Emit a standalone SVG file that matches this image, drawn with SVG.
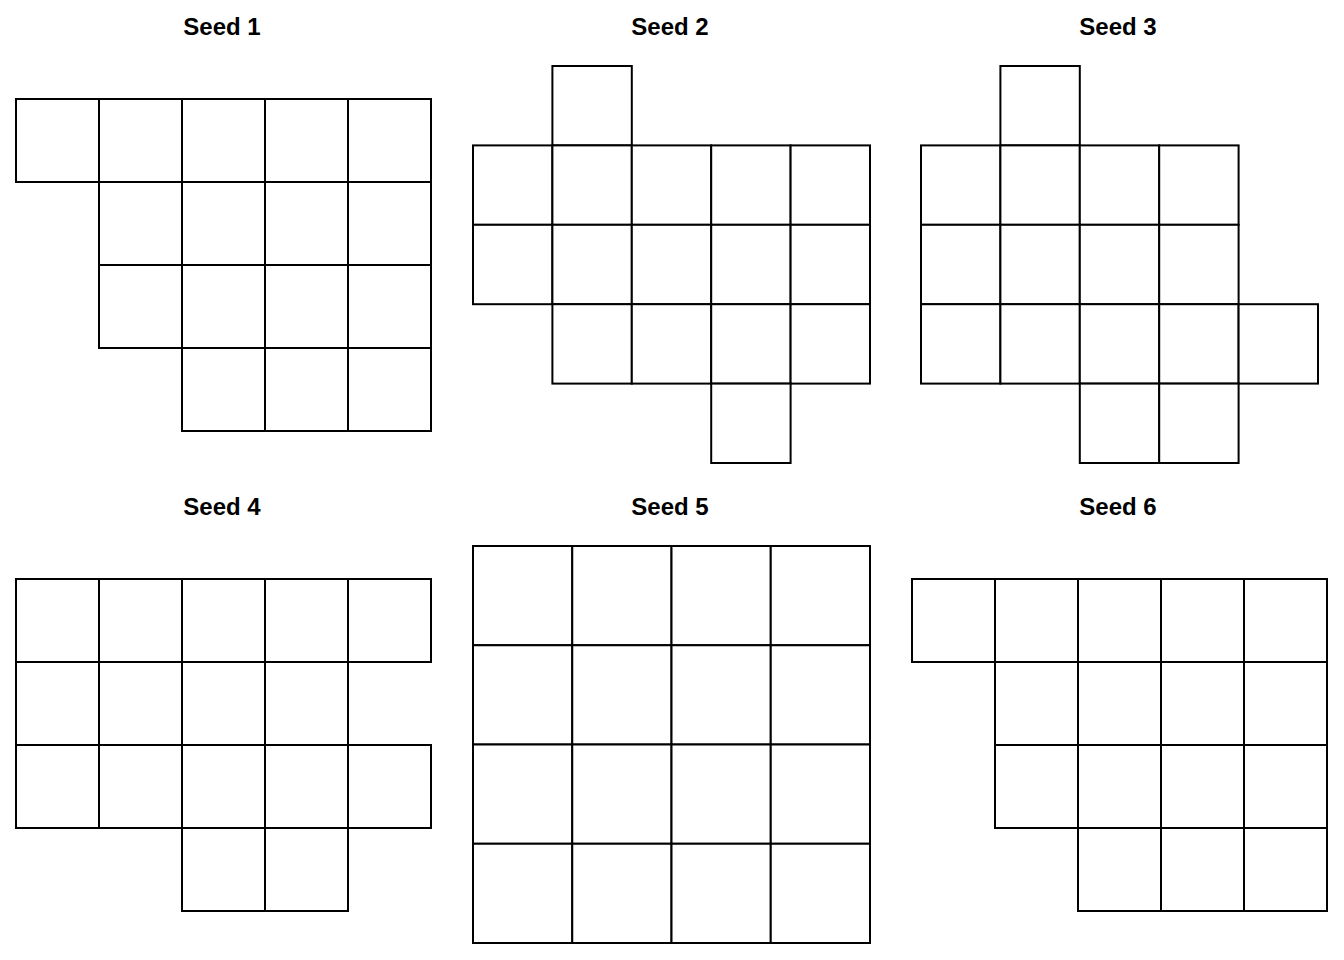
<svg xmlns="http://www.w3.org/2000/svg" width="1344" height="960" viewBox="0 0 1344 960">
<style>
.c{fill:#fff;stroke:#000;stroke-width:2}
.t{font-family:"Liberation Sans",Arial,sans-serif;font-weight:bold;font-size:24px;text-anchor:middle;fill:#000}
</style>
<rect width="1344" height="960" fill="#fff"/>
<g id="seed1">
<text class="t" x="222" y="35">Seed 1</text>
<g transform="translate(16,99)">
<rect class="c" x="0" y="0" width="83" height="83"/><rect class="c" x="83" y="0" width="83" height="83"/><rect class="c" x="166" y="0" width="83" height="83"/><rect class="c" x="249" y="0" width="83" height="83"/><rect class="c" x="332" y="0" width="83" height="83"/>
<rect class="c" x="83" y="83" width="83" height="83"/><rect class="c" x="166" y="83" width="83" height="83"/><rect class="c" x="249" y="83" width="83" height="83"/><rect class="c" x="332" y="83" width="83" height="83"/>
<rect class="c" x="83" y="166" width="83" height="83"/><rect class="c" x="166" y="166" width="83" height="83"/><rect class="c" x="249" y="166" width="83" height="83"/><rect class="c" x="332" y="166" width="83" height="83"/>
<rect class="c" x="166" y="249" width="83" height="83"/><rect class="c" x="249" y="249" width="83" height="83"/><rect class="c" x="332" y="249" width="83" height="83"/>
</g>
</g>
<g id="seed2">
<text class="t" x="670" y="35">Seed 2</text>
<g transform="translate(473,66)">
<rect class="c" x="79.4" y="0" width="79.4" height="79.4"/>
<rect class="c" x="0" y="79.4" width="79.4" height="79.4"/><rect class="c" x="79.4" y="79.4" width="79.4" height="79.4"/><rect class="c" x="158.8" y="79.4" width="79.4" height="79.4"/><rect class="c" x="238.2" y="79.4" width="79.4" height="79.4"/><rect class="c" x="317.6" y="79.4" width="79.4" height="79.4"/>
<rect class="c" x="0" y="158.8" width="79.4" height="79.4"/><rect class="c" x="79.4" y="158.8" width="79.4" height="79.4"/><rect class="c" x="158.8" y="158.8" width="79.4" height="79.4"/><rect class="c" x="238.2" y="158.8" width="79.4" height="79.4"/><rect class="c" x="317.6" y="158.8" width="79.4" height="79.4"/>
<rect class="c" x="79.4" y="238.2" width="79.4" height="79.4"/><rect class="c" x="158.8" y="238.2" width="79.4" height="79.4"/><rect class="c" x="238.2" y="238.2" width="79.4" height="79.4"/><rect class="c" x="317.6" y="238.2" width="79.4" height="79.4"/>
<rect class="c" x="238.2" y="317.6" width="79.4" height="79.4"/>
</g>
</g>
<g id="seed3">
<text class="t" x="1118" y="35">Seed 3</text>
<g transform="translate(921,66)">
<rect class="c" x="79.4" y="0" width="79.4" height="79.4"/>
<rect class="c" x="0" y="79.4" width="79.4" height="79.4"/><rect class="c" x="79.4" y="79.4" width="79.4" height="79.4"/><rect class="c" x="158.8" y="79.4" width="79.4" height="79.4"/><rect class="c" x="238.2" y="79.4" width="79.4" height="79.4"/>
<rect class="c" x="0" y="158.8" width="79.4" height="79.4"/><rect class="c" x="79.4" y="158.8" width="79.4" height="79.4"/><rect class="c" x="158.8" y="158.8" width="79.4" height="79.4"/><rect class="c" x="238.2" y="158.8" width="79.4" height="79.4"/>
<rect class="c" x="0" y="238.2" width="79.4" height="79.4"/><rect class="c" x="79.4" y="238.2" width="79.4" height="79.4"/><rect class="c" x="158.8" y="238.2" width="79.4" height="79.4"/><rect class="c" x="238.2" y="238.2" width="79.4" height="79.4"/><rect class="c" x="317.6" y="238.2" width="79.4" height="79.4"/>
<rect class="c" x="158.8" y="317.6" width="79.4" height="79.4"/><rect class="c" x="238.2" y="317.6" width="79.4" height="79.4"/>
</g>
</g>
<g id="seed4">
<text class="t" x="222" y="515">Seed 4</text>
<g transform="translate(16,579)">
<rect class="c" x="0" y="0" width="83" height="83"/><rect class="c" x="83" y="0" width="83" height="83"/><rect class="c" x="166" y="0" width="83" height="83"/><rect class="c" x="249" y="0" width="83" height="83"/><rect class="c" x="332" y="0" width="83" height="83"/>
<rect class="c" x="0" y="83" width="83" height="83"/><rect class="c" x="83" y="83" width="83" height="83"/><rect class="c" x="166" y="83" width="83" height="83"/><rect class="c" x="249" y="83" width="83" height="83"/>
<rect class="c" x="0" y="166" width="83" height="83"/><rect class="c" x="83" y="166" width="83" height="83"/><rect class="c" x="166" y="166" width="83" height="83"/><rect class="c" x="249" y="166" width="83" height="83"/><rect class="c" x="332" y="166" width="83" height="83"/>
<rect class="c" x="166" y="249" width="83" height="83"/><rect class="c" x="249" y="249" width="83" height="83"/>
</g>
</g>
<g id="seed5">
<text class="t" x="670" y="515">Seed 5</text>
<g transform="translate(473,546)">
<rect class="c" x="0" y="0" width="99.25" height="99.25"/><rect class="c" x="99.25" y="0" width="99.25" height="99.25"/><rect class="c" x="198.5" y="0" width="99.25" height="99.25"/><rect class="c" x="297.75" y="0" width="99.25" height="99.25"/>
<rect class="c" x="0" y="99.25" width="99.25" height="99.25"/><rect class="c" x="99.25" y="99.25" width="99.25" height="99.25"/><rect class="c" x="198.5" y="99.25" width="99.25" height="99.25"/><rect class="c" x="297.75" y="99.25" width="99.25" height="99.25"/>
<rect class="c" x="0" y="198.5" width="99.25" height="99.25"/><rect class="c" x="99.25" y="198.5" width="99.25" height="99.25"/><rect class="c" x="198.5" y="198.5" width="99.25" height="99.25"/><rect class="c" x="297.75" y="198.5" width="99.25" height="99.25"/>
<rect class="c" x="0" y="297.75" width="99.25" height="99.25"/><rect class="c" x="99.25" y="297.75" width="99.25" height="99.25"/><rect class="c" x="198.5" y="297.75" width="99.25" height="99.25"/><rect class="c" x="297.75" y="297.75" width="99.25" height="99.25"/>
</g>
</g>
<g id="seed6">
<text class="t" x="1118" y="515">Seed 6</text>
<g transform="translate(912,579)">
<rect class="c" x="0" y="0" width="83" height="83"/><rect class="c" x="83" y="0" width="83" height="83"/><rect class="c" x="166" y="0" width="83" height="83"/><rect class="c" x="249" y="0" width="83" height="83"/><rect class="c" x="332" y="0" width="83" height="83"/>
<rect class="c" x="83" y="83" width="83" height="83"/><rect class="c" x="166" y="83" width="83" height="83"/><rect class="c" x="249" y="83" width="83" height="83"/><rect class="c" x="332" y="83" width="83" height="83"/>
<rect class="c" x="83" y="166" width="83" height="83"/><rect class="c" x="166" y="166" width="83" height="83"/><rect class="c" x="249" y="166" width="83" height="83"/><rect class="c" x="332" y="166" width="83" height="83"/>
<rect class="c" x="166" y="249" width="83" height="83"/><rect class="c" x="249" y="249" width="83" height="83"/><rect class="c" x="332" y="249" width="83" height="83"/>
</g>
</g>
<g id="connectors"/>
</svg>
